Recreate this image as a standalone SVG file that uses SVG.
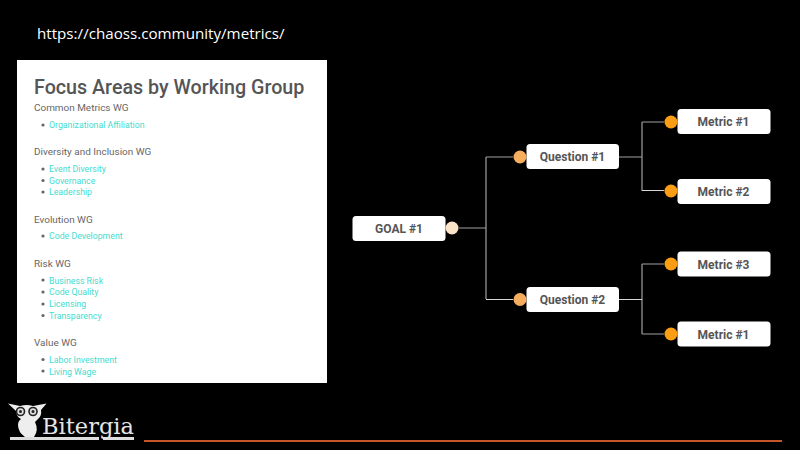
<svg xmlns="http://www.w3.org/2000/svg" width="800" height="450" viewBox="0 0 800 450">
  <style>
    text { font-family: Roboto, "Liberation Sans", sans-serif; }
    .card { fill: #fff; }
    .h { font-size: 9.95px; fill: #666; }
    .l { font-size: 8.75px; fill: #45dcd0; }
    .b { fill: #666; }
    .box { fill: #fff; }
    .lbl { font-size: 12px; font-weight: 700; fill: #555; text-anchor: middle; }
    .wire { fill: none; stroke: #a0a0a0; stroke-width: 1.2; }
    .wire.pale { stroke: #d8d8d8; stroke-width: 1; }
    .goal { fill: #fbe3c8; }
    .q { fill: #f6ad5e; }
    .m { fill: #fb9d14; }
  </style>
  <rect width="800" height="450" fill="#000"/>
  <text x="37" y="39" style="font-family:'Open Sans',sans-serif" font-size="15.17" fill="#fff">https://chaoss.community/metrics/</text>

  <g id="focus-areas">
    <rect class="card" x="17" y="60" width="310" height="323"/>
    <text x="34" y="94" font-size="19.7" font-weight="500" fill="#555">Focus Areas by Working Group</text>
    <text class="h" x="34" y="111">Common Metrics WG</text>
    <circle class="b" cx="43" cy="125" r="1.600"/><text class="l" x="49" y="128">Organizational Affiliation</text>
    <text class="h" x="34" y="155">Diversity and Inclusion WG</text>
    <circle class="b" cx="43" cy="169" r="1.600"/><text class="l" x="49" y="172">Event Diversity</text>
    <circle class="b" cx="43" cy="180.500" r="1.600"/><text class="l" x="49" y="183.500">Governance</text>
    <circle class="b" cx="43" cy="192" r="1.600"/><text class="l" x="49" y="195">Leadership</text>
    <text class="h" x="34" y="223">Evolution WG</text>
    <circle class="b" cx="43" cy="236" r="1.600"/><text class="l" x="49" y="239">Code Development</text>
    <text class="h" x="34" y="267">Risk WG</text>
    <circle class="b" cx="43" cy="280" r="1.600"/><text class="l" x="49" y="283.500">Business Risk</text>
    <circle class="b" cx="43" cy="292" r="1.600"/><text class="l" x="49" y="295">Code Quality</text>
    <circle class="b" cx="43" cy="304" r="1.600"/><text class="l" x="49" y="307">Licensing</text>
    <circle class="b" cx="43" cy="315.500" r="1.600"/><text class="l" x="49" y="319">Transparency</text>
    <text class="h" x="34" y="346">Value WG</text>
    <circle class="b" cx="43" cy="359.500" r="1.600"/><text class="l" x="49" y="363">Labor Investment</text>
    <circle class="b" cx="43" cy="371" r="1.600"/><text class="l" x="49" y="374.500">Living Wage</text>
  </g>

  <g id="connectors">
    <path class="wire" d="M459 228H486M486 157V299M486 157H513"/>
    <path class="wire pale" d="M486 299.500H513"/>
    <path class="wire" d="M619 157H642M642 122V191M642 122H664"/>
    <path class="wire pale" d="M642 190.500H664"/>
    <path class="wire" d="M642 264V334M642 264H664M642 334H664"/>
    <path class="wire pale" d="M619 299.500H642"/>
  </g>

  <g id="goal-1"><rect class="box" x="352.500" y="216" width="93" height="25" rx="3.500"/><circle class="goal" cx="452" cy="228" r="6.500"/><text class="lbl" x="399" y="232.500">GOAL #1</text></g>
  <g id="question-1"><rect class="box" x="526.500" y="144" width="92.500" height="25" rx="3.500"/><circle class="q" cx="520" cy="157" r="6.500"/><text class="lbl" x="572.500" y="161">Question #1</text></g>
  <g id="question-2"><rect class="box" x="526.500" y="287" width="92.500" height="25" rx="3.500"/><circle class="q" cx="520" cy="299.500" r="6.500"/><text class="lbl" x="572.500" y="304">Question #2</text></g>
  <g id="metric-1a"><rect class="box" x="677.500" y="109" width="93" height="25" rx="3.500"/><circle class="m" cx="671" cy="122" r="6.500"/><text class="lbl" x="723.500" y="126">Metric #1</text></g>
  <g id="metric-2"><rect class="box" x="677.500" y="179" width="93" height="25" rx="3.500"/><circle class="m" cx="671" cy="191" r="6.500"/><text class="lbl" x="723.500" y="196">Metric #2</text></g>
  <g id="metric-3"><rect class="box" x="677.500" y="251.500" width="93" height="25" rx="3.500"/><circle class="m" cx="671" cy="264" r="6.500"/><text class="lbl" x="723.500" y="268.500">Metric #3</text></g>
  <g id="metric-1b"><rect class="box" x="677.500" y="321.500" width="93" height="25" rx="3.500"/><circle class="m" cx="671" cy="334" r="6.500"/><text class="lbl" x="723.500" y="338.500">Metric #1</text></g>

  <g id="bitergia-logo">
    <path fill="#eee" d="M8 403.500L20 406Q27 404 33 406L46.500 403.500L41 410Q42 416 38 419L35 422Q39 430 34 437H25Q18 432 18 425Q18 421 21 419Q16 416 16 411Z"/>
    <circle cx="20.500" cy="411.500" r="4.800" fill="#222"/><circle cx="33" cy="411.500" r="4.800" fill="#222"/>
    <circle cx="20.500" cy="411.500" r="3.200" fill="#ddd"/><circle cx="33" cy="411.500" r="3.200" fill="#ddd"/>
    <circle cx="20.500" cy="411.500" r="1.500" fill="#222"/><circle cx="33" cy="411.500" r="1.500" fill="#222"/>
    <path fill="#ddd" d="M10 437H99V440H10ZM103 437H134V440H103Z"/>
    <text x="42" y="433.500" font-size="21.500" style="font-family:'DejaVu Serif',serif" fill="#e4e4e4" textLength="92" lengthAdjust="spacingAndGlyphs">Bitergia</text>
  </g>
  <rect id="footer-rule" x="144" y="440" width="638" height="2" fill="#c5562a"/>
</svg>
